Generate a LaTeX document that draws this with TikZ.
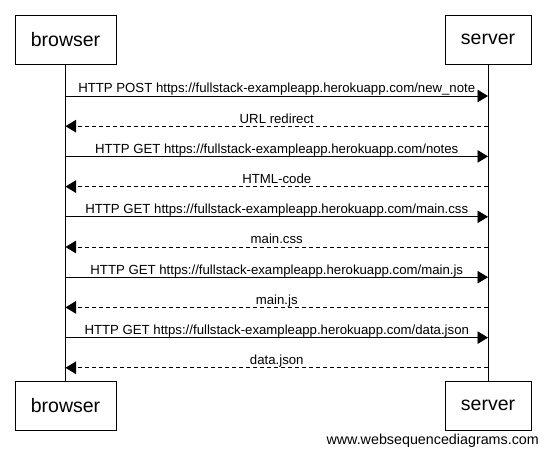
\documentclass[tikz,border=0pt]{standalone}
\usepackage{fontspec}
\setmainfont{Liberation Sans}
\usetikzlibrary{arrows.meta, positioning}

\begin{document}
\begin{tikzpicture}[
    x=1pt, y=-1pt,
    actor/.style={rectangle, draw, line width=0.9pt, minimum height=49pt,
                  inner sep=0pt, font=\fontsize{19.5}{22}\selectfont},
    life/.style={line width=0.9pt},
    call/.style={line width=0.9pt, -{Triangle[length=10.5pt, width=12.5pt]}},
    reply/.style={call, dash pattern=on 4pt off 3pt},
    msg/.style={midway, anchor=base, yshift=3pt, inner sep=0pt,
                font=\fontsize{13.2}{15}\selectfont}
]
    \useasboundingbox (0,0) rectangle (546,454);
    \node[actor, minimum width=101pt] (b1) at (65.5,39.5) {browser};
    \node[actor, minimum width=86pt] (s1) at (488,39.5) {server};
    \node[actor, minimum width=101pt] (b2) at (65.5,405.5) {browser};
    \node[actor, minimum width=86pt] (s2) at (488,405.5) {server};
    \draw[life] (b1) -- (b2);
    \draw[life] (s1) -- (s2);
    \foreach \i in {1,...,10} {
        \path (b1.center) ++(0,{56.5+30.2*(\i-1)}) coordinate (bm\i);
        \path (s1.center) ++(0,{56.5+30.2*(\i-1)}) coordinate (sm\i);
    }
    \draw[call] (bm1) -- (sm1) node[msg] {HTTP POST https://fullstack-exampleapp.herokuapp.com/new\_note};
    \draw[reply] (sm2) -- (bm2) node[msg] {URL redirect};
    \draw[call] (bm3) -- (sm3) node[msg] {HTTP GET https://fullstack-exampleapp.herokuapp.com/notes};
    \draw[reply] (sm4) -- (bm4) node[msg] {HTML-code};
    \draw[call] (bm5) -- (sm5) node[msg] {HTTP GET https://fullstack-exampleapp.herokuapp.com/main.css};
    \draw[reply] (sm6) -- (bm6) node[msg] {main.css};
    \draw[call] (bm7) -- (sm7) node[msg] {HTTP GET https://fullstack-exampleapp.herokuapp.com/main.js};
    \draw[reply] (sm8) -- (bm8) node[msg] {main.js};
    \draw[call] (bm9) -- (sm9) node[msg] {HTTP GET https://fullstack-exampleapp.herokuapp.com/data.json};
    \draw[reply] (sm10) -- (bm10) node[msg] {data.json};
    \node[anchor=base east, inner sep=0pt, font=\fontsize{14.3}{16}\selectfont] (wsd) at (539,444) {www.websequencediagrams.com};
\end{tikzpicture}
\end{document}
